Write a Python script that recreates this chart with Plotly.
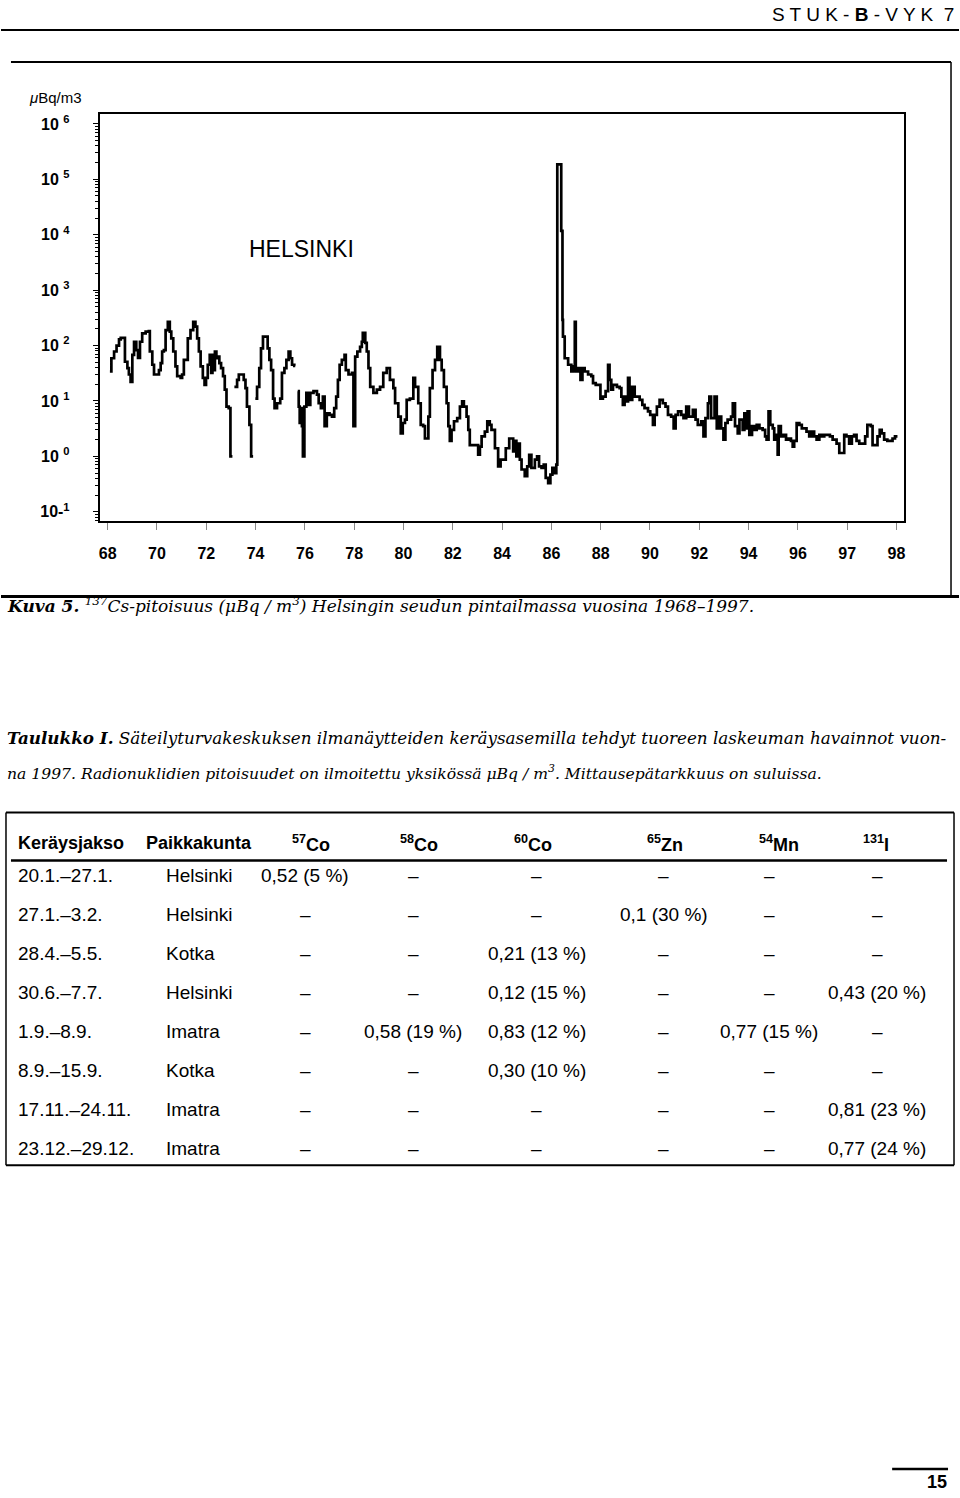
import plotly.graph_objects as go

W, H = 960, 1498

# ---------------- chart data (axis position in "years", Cs-137 in µBq/m3) -------------
yr_a = [68.09, 68.15, 68.26, 68.36, 68.46, 68.53, 68.70, 68.80, 68.86, 68.93,
        69.00, 69.07, 69.16, 69.23, 69.31, 69.40, 69.54, 69.67, 69.71, 69.81,
        69.88, 70.08, 70.15, 70.21, 70.28, 70.35, 70.44, 70.52, 70.58, 70.66,
        70.75, 70.82, 70.96, 71.02, 71.09, 71.25, 71.36, 71.47, 71.56, 71.63,
        71.70, 71.77, 71.86, 71.93, 71.99, 72.06, 72.14, 72.20, 72.25, 72.30,
        72.35, 72.41, 72.47, 72.53, 72.60, 72.68, 72.75, 72.82, 72.91, 72.98, 73.06]
cs_a = [34, 59, 78, 100, 129, 138, 51, 39, 30, 22,
        68, 117, 83, 60, 117, 166, 178, 182, 78, 45,
        30, 36, 48, 78, 83, 190, 269, 178, 135, 78,
        42, 28, 26, 30, 55, 135, 190, 269, 219, 135,
        78, 42, 26, 19.5, 26, 45, 68, 32, 68, 36,
        78, 59, 63, 48, 39, 28, 16, 7.9, 7.4, 1.0, 1.0]

yr_b = [73.14, 73.25, 73.32, 73.52, 73.59, 73.65, 73.75, 73.82, 73.90]
cs_b = [18, 24, 30, 24, 17, 7.9, 3.7, 1.0, 1.0]

yr_c = [73.99, 74.06, 74.15, 74.22, 74.30, 74.49, 74.56, 74.63, 74.71, 74.77,
        74.87, 75.00, 75.07, 75.17, 75.25, 75.34, 75.41, 75.48, 75.57, 75.61]
cs_c = [11, 18, 39, 89, 145, 89, 55, 36, 11, 7.4,
        9.1, 11, 32, 39, 55, 78, 59, 45, 43, 43]

yr_d = [75.71, 75.75, 75.79, 75.84, 75.88, 75.92, 75.98, 76.06, 76.15, 76.22,
        76.35, 76.49, 76.56, 76.65, 76.73, 76.80, 76.89, 77.00, 77.10, 77.19,
        77.27, 77.34, 77.41, 77.50, 77.61, 77.66, 77.77, 77.91, 77.97, 78.04,
        78.13, 78.24, 78.31, 78.35, 78.45, 78.51, 78.58, 78.65, 78.78, 78.92, 79.05]
cs_d = [15, 7.9, 4.0, 7.4, 3.5, 1.0, 7.9, 14, 8.5, 14,
        15, 13, 9.1, 7.4, 12, 3.5, 6.0, 5.6, 5.2, 7.4,
        12, 24, 45, 55, 68, 36, 30, 32, 3.5, 63,
        78, 95, 117, 170, 112, 78, 39, 18, 14, 16, 18]

yr_e = [79.18, 79.32, 79.45, 79.59, 79.66, 79.79, 79.89, 79.97, 80.06, 80.13,
        80.26, 80.40, 80.47, 80.60, 80.70, 80.80, 80.87, 81.01, 81.07, 81.18,
        81.28, 81.37, 81.48, 81.55, 81.64, 81.75, 81.82, 81.88, 81.95, 82.05,
        82.18, 82.29, 82.38, 82.45, 82.56, 82.63, 82.69, 83.03, 83.10, 83.17,
        83.30, 83.40, 83.50, 83.57, 83.71, 83.84, 83.94, 84.15, 84.29, 84.45,
        84.52, 84.58, 84.65, 84.72, 84.79, 84.92, 85.02, 85.10, 85.19, 85.33,
        85.42, 85.50, 85.60, 85.69, 85.77, 85.87, 85.96, 86.04, 86.13, 86.20,
        86.24, 86.40, 86.45]
cs_e = [32, 39, 24, 17, 9.1, 5.2, 2.6, 4.0, 4.6, 10.5,
        11, 26, 18, 9.1, 3.7, 3.5, 2.1, 5.2, 17, 36,
        55, 95, 55, 36, 18, 9.1, 3.5, 1.9, 3.0, 4.3,
        4.9, 7.9, 9.8, 7.9, 5.2, 3.0, 1.6, 1.07, 1.5, 2.3,
        2.8, 4.3, 3.7, 3.0, 1.4, 0.66, 0.87, 1.4, 2.1, 1.23,
        1.9, 1.0, 1.7, 0.87, 0.58, 0.44, 0.66, 1.07, 0.62, 0.87,
        1.0, 0.66, 0.62, 0.71, 0.41, 0.33, 0.47, 0.62, 0.50, 0.71,
        186000, 11750, 290]

yr_f = [86.47, 86.54, 86.68, 86.81, 86.88, 86.95, 86.99, 87.08, 87.18, 87.26,
        87.35, 87.49, 87.62, 87.69, 87.80, 87.99, 88.09, 88.20, 88.30, 88.36,
        88.43, 88.50, 88.66, 88.77, 88.84, 88.90, 88.97, 89.04, 89.11, 89.17,
        89.28, 89.38, 89.58, 89.69, 89.78, 89.92, 90.01, 90.12, 90.19, 90.28,
        90.39, 90.52, 90.63, 90.73, 90.86, 90.96, 91.04, 91.14, 91.27, 91.36,
        91.47, 91.58, 91.74, 91.85, 91.94, 92.08, 92.17, 92.25, 92.35, 92.41,
        92.48, 92.62, 92.71, 92.79, 92.89, 92.98, 93.06, 93.15, 93.29, 93.36,
        93.45, 93.56, 93.63, 93.76, 93.83, 93.90, 93.96, 94.03, 94.14, 94.23,
        94.33, 94.44, 94.57, 94.67, 94.73, 94.81, 94.88, 94.98, 95.04, 95.11,
        95.18, 95.22, 95.31, 95.41, 95.52, 95.62, 95.72, 95.79, 95.85, 95.95,
        96.06, 96.16, 96.35, 96.46, 96.57, 96.66, 96.76, 96.87, 96.97, 97.07,
        97.30, 97.41, 97.57, 97.68, 97.88, 97.97, 98.08, 98.19, 98.28, 98.38,
        98.49, 98.73, 98.82, 98.96, 99.03, 99.23, 99.32, 99.40, 99.50, 99.63,
        99.84, 99.94, 100.04]
cs_f = [145, 59, 45, 34, 42, 269, 34, 39, 24, 39,
        34, 30, 28, 21, 19.5, 11, 12, 15, 45, 24,
        16, 19.5, 18, 17, 12, 8.5, 12, 9.8, 26, 10.5,
        18, 12, 10.5, 8.5, 7.4, 6.5, 5.6, 3.7, 5.6, 7.9,
        10.5, 9.1, 7.9, 5.6, 5.2, 3.2, 5.6, 6.5, 5.6, 4.9,
        7.9, 5.2, 6.9, 4.6, 3.7, 4.3, 2.3, 4.9, 9.1, 12,
        4.9, 12, 3.2, 5.2, 3.2, 2.0, 4.0, 4.6, 5.2, 9.1,
        3.5, 2.6, 4.6, 3.0, 6.0, 3.2, 6.5, 2.45, 3.5, 3.0,
        3.7, 3.2, 3.0, 2.3, 2.0, 6.5, 3.7, 3.2, 2.0, 2.45,
        1.07, 3.5, 2.3, 2.45, 2.0, 2.1, 1.9, 1.5, 1.9, 4.0,
        3.7, 3.2, 2.8, 2.3, 2.8, 2.3, 2.0, 2.45, 2.3, 2.45,
        2.3, 2.0, 1.7, 1.15, 2.45, 2.3, 1.7, 2.3, 2.45, 1.9,
        1.7, 2.3, 3.7, 3.5, 1.6, 2.3, 3.0, 2.6, 2.0, 1.9,
        2.1, 2.3, 2.3]

x_tick_pos = [68, 70, 72, 74, 76, 78, 80, 82, 84, 86, 88, 90, 92, 94, 96, 98, 100]
x_tick_labels = ["68", "70", "72", "74", "76", "78", "80", "82", "84", "86",
                 "88", "90", "92", "94", "96", "97", "98"]
y_tick_vals = [0.1, 1, 10, 100, 1e3, 1e4, 1e5, 1e6]
y_tick_labels = ["10-<sup>1</sup>", "10 <sup>0</sup>", "10 <sup>1</sup>", "10 <sup>2</sup>",
                 "10 <sup>3</sup>", "10 <sup>4</sup>", "10 <sup>5</sup>", "10 <sup>6</sup>"]

# ---------------- table data ----------------
tbl_header = ["Keräysjakso", "Paikkakunta", "<sup>57</sup>Co", "<sup>58</sup>Co",
              "<sup>60</sup>Co", "<sup>65</sup>Zn", "<sup>54</sup>Mn", "<sup>131</sup>I"]
tbl_period = ["20.1.–27.1.", "27.1.–3.2.", "28.4.–5.5.", "30.6.–7.7.",
              "1.9.–8.9.", "8.9.–15.9.", "17.11.–24.11.", "23.12.–29.12."]
tbl_place = ["Helsinki", "Helsinki", "Kotka", "Helsinki", "Imatra", "Kotka", "Imatra", "Imatra"]
col_co57 = ["0,52 (5 %)", "–", "–", "–", "–", "–", "–", "–"]
col_co58 = ["–", "–", "–", "–", "0,58 (19 %)", "–", "–", "–"]
col_co60 = ["–", "–", "0,21 (13 %)", "0,12 (15 %)", "0,83 (12 %)", "0,30 (10 %)", "–", "–"]
col_zn65 = ["–", "0,1 (30 %)", "–", "–", "–", "–", "–", "–"]
col_mn54 = ["–", "–", "–", "–", "0,77 (15 %)", "–", "–", "–"]
col_i131 = ["–", "–", "–", "0,43 (20 %)", "–", "–", "0,81 (23 %)", "0,77 (24 %)"]


def px(x):
    return x / W


def py(y):
    return 1 - y / H


xs, ys = [], []
for sx, sy in [(yr_a, cs_a), (yr_b, cs_b), (yr_c, cs_c), (yr_d + yr_e + yr_f, cs_d + cs_e + cs_f)]:
    assert len(sx) == len(sy)
    if xs:
        xs.append(None)
        ys.append(None)
    xs += sx
    ys += sy

fig = go.Figure()
fig.add_trace(go.Scatter(x=xs, y=ys, mode="lines", connectgaps=False,
                         line=dict(color="black", width=2.7, shape="hv"),
                         hoverinfo="skip", showlegend=False))

SANS = "Liberation Sans Narrow, Liberation Sans, Arial, sans-serif"
SANS_R = "Liberation Sans, Arial, sans-serif"
SERIF = "DejaVu Serif, serif"

fig.update_layout(
    width=W, height=H, margin=dict(l=0, r=0, t=0, b=0),
    paper_bgcolor="white", plot_bgcolor="white", showlegend=False,
    xaxis=dict(domain=[px(99), px(905)], range=[67.68, 100.31],
               tickmode="array", tickvals=x_tick_pos, ticktext=x_tick_labels,
               ticks="outside", ticklen=7, tickwidth=1, tickcolor="#888",
               showline=True, linecolor="black", linewidth=2, mirror=True,
               showgrid=False, zeroline=False, ticklabelstandoff=10,
               tickfont=dict(family=SANS, size=16, color="black", weight="bold")),
    yaxis=dict(type="log", domain=[py(520), py(113)], range=[-1.16, 6.18],
               tickmode="array", tickvals=y_tick_vals, ticktext=y_tick_labels,
               ticks="outside", ticklen=5, tickwidth=1, tickcolor="black",
               minor=dict(ticks="outside", ticklen=3, tickwidth=1, tickcolor="black",
                          dtick="D1", showgrid=False),
               showline=True, linecolor="black", linewidth=2, mirror=True,
               showgrid=False, zeroline=False, ticklabelstandoff=20,
               tickfont=dict(family=SANS, size=16, color="black", weight="bold")),
)

ann = []


def text(x, y, t, size, family=SANS_R, anchor="left", weight="normal"):
    ann.append(dict(x=px(x), y=py(y), xref="paper", yref="paper", text=t, showarrow=False,
                    xanchor=anchor, yanchor="middle",
                    font=dict(family=family, size=size, color="black", weight=weight)))


# page header / chart texts
text(957, 14, "S T U K - <b>B</b> - V Y K  7", 19, anchor="right")
text(26, 97, "<i>μ</i>Bq/m3", 15, family=SANS)
text(247, 248, "HELSINKI", 23)
text(4, 604, "<i><b>Kuva 5.</b> <sup>137</sup>Cs-pitoisuus (μBq / m<sup>3</sup>) Helsingin seudun "
     "pintailmassa vuosina 1968–1997.</i>", 17, family=SERIF)
text(4, 737, "<i><b>Taulukko I.</b> Säteilyturvakeskuksen ilmanäytteiden keräysasemilla tehdyt "
     "tuoreen laskeuman havainnot vuon-</i>", 16.8, family=SERIF)
text(4, 772, "<i>na 1997. Radionuklidien pitoisuudet on ilmoitettu yksikössä μBq / m<sup>3</sup>. "
     "Mittausepätarkkuus on suluissa.</i>", 15.6, family=SERIF)

# table
hdr_x = [15, 143, 290, 398, 512, 645, 758, 862]
for hx, h in zip(hdr_x, tbl_header):
    text(hx, 843, h, 18, weight="bold")
col_cx = [305, 413, 537, 664, 770, 878]
cols = [col_co57, col_co58, col_co60, col_zn65, col_mn54, col_i131]
for i in range(len(tbl_period)):
    ry = 875 + 39 * i
    text(15, ry, tbl_period[i], 19)
    text(163, ry, tbl_place[i], 19)
    for cx, col in zip(col_cx, cols):
        text(cx, ry, col[i], 19, anchor="center")

text(950, 1482, "15", 18, anchor="right", weight="bold")
fig.update_layout(annotations=ann)

shapes = []


def line(x0, y0, x1, y1, w):
    shapes.append(dict(type="line", xref="paper", yref="paper", x0=px(x0), y0=py(y0),
                       x1=px(x1), y1=py(y1), line=dict(color="black", width=w)))


line(0, 29, 960, 29, 2)
line(10, 61, 952, 61, 2)
line(952, 61, 952, 596, 1.5)
line(0, 596, 960, 596, 3)
line(5, 812, 955, 812, 2)
line(5, 1165, 955, 1165, 2)
line(5, 812, 5, 1165, 1.5)
line(955, 812, 955, 1165, 1.5)
line(10, 860, 948, 860, 2.5)
line(893, 1469, 949, 1469, 2.5)
fig.update_layout(shapes=shapes)

fig.write_html("out.html", config={"displayModeBar": False},
               post_script="document.body.style.margin='0';")
